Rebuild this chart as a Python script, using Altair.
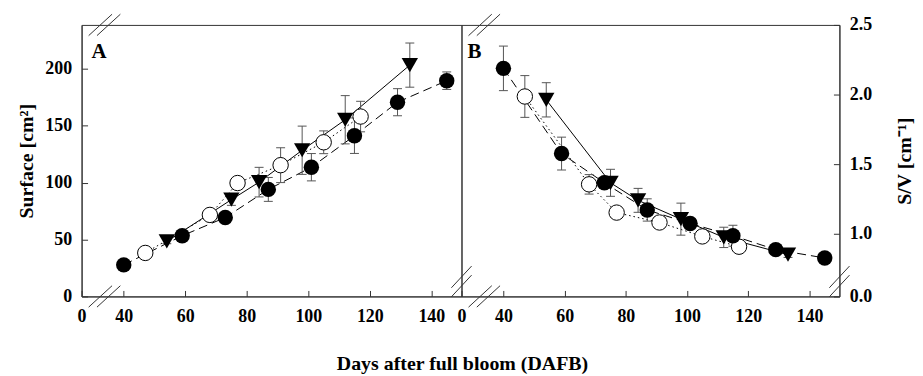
import altair as alt
import pandas as pd

# ---------------- data ----------------
days_filled = [40, 59, 73, 87, 101, 115, 129, 145]
days_open = [47, 68, 77, 91, 105, 117]
days_tri = [54, 75, 84, 98, 112, 133]

surf_filled = [27.7, 53.3, 69.3, 94.0, 113.5, 141.2, 170.6, 189.5]
surf_filled_err = [2, 3, 4, 10.5, 12.0, 15.6, 11.9, 7.7]
surf_open = [38.2, 71.6, 99.6, 115.3, 135.4, 158.0]
surf_open_err = [2, 4, 5, 15.3, 10.0, 13.4]
surf_tri = [48.3, 85.0, 100.4, 128.4, 155.2, 203.2]
surf_tri_err = [2, 5, 13.0, 21.2, 21.2, 19.4]

sv_filled = [2.188, 1.576, 1.366, 1.171, 1.074, 0.986, 0.886, 0.826]
sv_filled_err = [0.16, 0.118, 0.03, 0.08, 0.03, 0.075, 0.02, 0.02]
sv_open = [1.986, 1.355, 1.152, 1.081, 0.981, 0.907]
sv_open_err = [0.15, 0.07, 0.02, 0.02, 0.02, 0.02]
sv_tri = [1.962, 1.366, 1.24, 1.105, 0.974, 0.85]
sv_tri_err = [0.123, 0.097, 0.086, 0.115, 0.073, 0.02]

x_ticks = [26.3, 40, 60, 80, 100, 120, 140]
surf_ticks = [0, 50, 100, 150, 200]
sv_ticks = [0.55, 1.0, 1.5, 2.0, 2.5]

X_DOMAIN = [26.3, 149.8]
SURF_DOMAIN = [0, 238.5]
SV_DOMAIN = [0.55, 2.5]

# axis-break decorations (centres in data units)
break_days = [32.4, 35.1]
sv_break_vals = [0.69, 0.625]

FONT = "Liberation Serif"
AX = "#333333"
ERR = "#555555"


def make_df(days, vals, errs):
    return pd.DataFrame({
        "day": days, "v": vals,
        "lo": [v - e for v, e in zip(vals, errs)],
        "hi": [v + e for v, e in zip(vals, errs)],
    })


xscale = alt.Scale(domain=X_DOMAIN, nice=False, zero=False)
xaxis = alt.Axis(values=x_ticks, labelExpr="datum.value < 30 ? '0' : datum.label",
                 title=None, labelPadding=17, labelFlush=False, labelOverlap=False)


def panel(series, yscale, yaxis, label, label_x, extra=None):
    def X(field="day"):
        return alt.X(f"{field}:Q", scale=xscale, axis=xaxis)

    def Y(field):
        return alt.Y(f"{field}:Q", scale=yscale, axis=yaxis)

    lines, errs, pts = [], [], []
    for df, kind in series:
        base = alt.Chart(df)
        if kind == "filled":
            lines.append(base.mark_line(color="black", strokeWidth=1, strokeDash=[9, 5]).encode(x=X(), y=Y("v")))
        elif kind == "open":
            lines.append(base.mark_line(color="black", strokeWidth=1, strokeDash=[1.5, 3]).encode(x=X(), y=Y("v")))
        else:
            lines.append(base.mark_line(color="black", strokeWidth=1).encode(x=X(), y=Y("v")))
        errs.append(base.mark_rule(color=ERR, strokeWidth=1).encode(x=X(), y=Y("lo"), y2="hi:Q"))
        for f in ["lo", "hi"]:
            errs.append(base.mark_rule(color=ERR, strokeWidth=1, xOffset=-4.5, x2Offset=4.5)
                        .encode(x=X(), x2="day:Q", y=Y(f)))
    order = {"open": 0, "tri": 1, "filled": 2}
    for df, kind in sorted(series, key=lambda s: order[s[1]]):
        base = alt.Chart(df)
        if kind == "filled":
            m = base.mark_point(shape="circle", filled=True, color="black", size=240, opacity=1)
        elif kind == "open":
            m = base.mark_point(shape="circle", filled=True, fill="white", stroke="black",
                                strokeWidth=1, size=240, opacity=1)
        else:
            m = base.mark_point(shape="triangle-down", filled=True, color="black", size=270, opacity=1)
        pts.append(m.encode(x=X(), y=Y("v")))

    # axis break marks
    brk = pd.DataFrame(extra)
    brk_layer = alt.Chart(brk).mark_rule(color=AX, strokeWidth=1).encode(
        x=X("x1"), x2="x2:Q", y=Y("y1"), y2="y2:Q")

    lab = alt.Chart(pd.DataFrame({"t": [label]})).mark_text(
        font=FONT, fontSize=21, fontWeight="bold", align="left", baseline="alphabetic", color="black"
    ).encode(text="t:N", x=alt.value(label_x), y=alt.value(33))

    layers = lines + errs + pts + [brk_layer, lab]
    return layers


def x_breaks(ymin, ymax, dy):
    rows = []
    for c in break_days:
        for yc in (ymin, ymax):
            rows.append({"x1": c - 3.8, "x2": c + 3.8, "y1": yc - dy, "y2": yc + dy})
    return rows


# ---------------- panel A ----------------
A_series = [
    (make_df(days_filled, surf_filled, surf_filled_err), "filled"),
    (make_df(days_open, surf_open, surf_open_err), "open"),
    (make_df(days_tri, surf_tri, surf_tri_err), "tri"),
]
ysA = alt.Scale(domain=SURF_DOMAIN, nice=False, zero=False)
yaA = alt.Axis(values=surf_ticks, title="Surface [cm²]", labelPadding=16, titlePadding=8)
A_layers = panel(A_series, ysA, yaA, "A", 10, x_breaks(SURF_DOMAIN[0], SURF_DOMAIN[1], 9.4))

title_layer = alt.Chart(pd.DataFrame({"t": ["Days after full bloom (DAFB)"]})).mark_text(
    font=FONT, fontSize=20, fontWeight="bold", align="center", baseline="middle", color="black"
).encode(text="t:N", x=alt.value(383), y=alt.value(341))

chartA = alt.layer(*A_layers, title_layer).properties(width=382, height=273)

# ---------------- panel B ----------------
B_series = [
    (make_df(days_filled, sv_filled, sv_filled_err), "filled"),
    (make_df(days_open, sv_open, sv_open_err), "open"),
    (make_df(days_tri, sv_tri, sv_tri_err), "tri"),
]
ysB = alt.Scale(domain=SV_DOMAIN, nice=False, zero=False)
yaB = alt.Axis(values=sv_ticks, orient="right", title="S/V [cm⁻¹]", titleAngle=270,
               titleBaseline="top",
               labelExpr="datum.value < 0.6 ? '0.0' : format(datum.value, '.1f')",
               labelPadding=16, titlePadding=23)
b_rows = x_breaks(SV_DOMAIN[0], SV_DOMAIN[1], 0.077)
for xc in X_DOMAIN:
    for yc in sv_break_vals:
        b_rows.append({"x1": xc - 3.3, "x2": xc + 3.3, "y1": yc - 0.078, "y2": yc + 0.078})
B_layers = panel(B_series, ysB, yaB, "B", 6, b_rows)
chartB = alt.layer(*B_layers).properties(width=380, height=273)

chart = alt.hconcat(chartA, chartB, spacing=0, bounds="flush").properties(
    padding={"left": 8, "top": 4, "right": 0, "bottom": 0}
).configure_view(stroke=AX, strokeWidth=1).configure_axis(
    labelFont=FONT, labelFontSize=18, labelFontWeight="bold", labelColor="black",
    titleFont=FONT, titleFontSize=20, titleFontWeight="bold", titleColor="black",
    domainColor=AX, tickColor=AX, grid=False, tickSize=alt.ExprRef(expr="-6"),
)

chart.save("out.html", embed_options={"renderer": "svg", "actions": False})
